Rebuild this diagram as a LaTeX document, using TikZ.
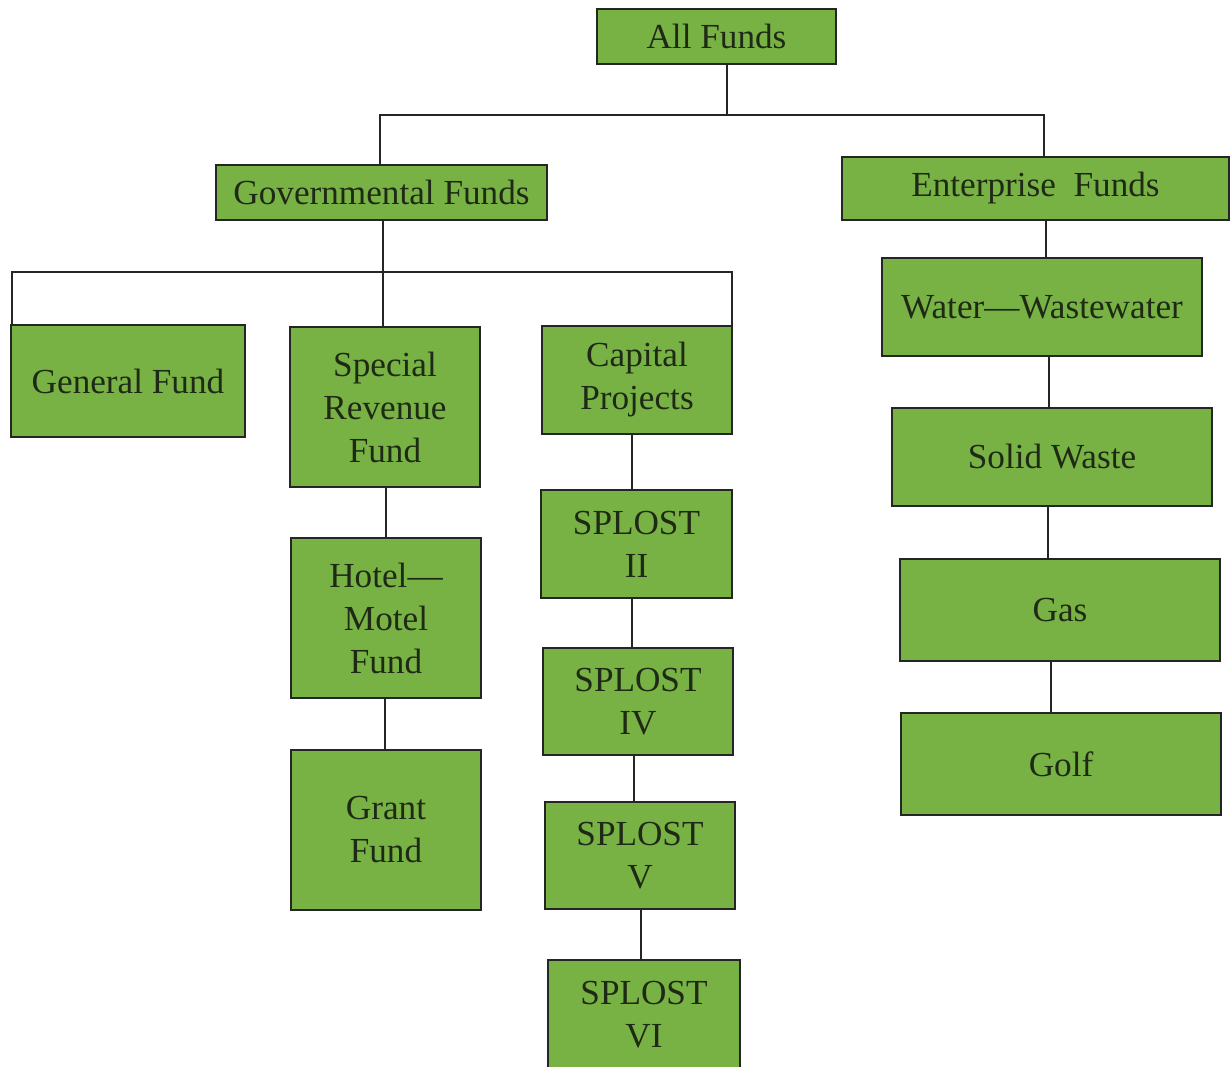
\documentclass[tikz,border=0pt]{standalone}
\usepackage{fontspec}
\setmainfont{Liberation Serif}
\definecolor{fundgreen}{RGB}{121,178,68}
\definecolor{fundtext}{RGB}{30,42,22}
\definecolor{fundline}{RGB}{35,38,35}
\tikzset{
  fundbox/.style={draw=fundline, line width=1.3pt, fill=fundgreen, text=fundtext,
    inner sep=0pt, align=center, anchor=center,
    font=\fontsize{17.6pt}{21.5pt}\selectfont},
  link/.style={draw=fundline, line width=1pt}
}
\begin{document}
\begin{tikzpicture}[x=0.5pt,y=-0.5pt]
\useasboundingbox (0,0) rectangle (1231,1066);
\clip (0,0) rectangle (1231,1066);
% top levels
\node[fundbox, minimum width=119.5pt, minimum height=27.5pt] (all) at (716.5,36.5) {All Funds};
\node[fundbox, minimum width=165.5pt, minimum height=27.5pt] (gov) at (381.5,192.5) {Governmental Funds};
\node[fundbox, minimum width=193.5pt, minimum height=31.5pt] (ent) at (1035.5,188.5) {Enterprise~~Funds};
% governmental children
\node[fundbox, minimum width=117pt, minimum height=56pt] (gen) at (128,381) {General Fund};
\node[fundbox, minimum width=95pt, minimum height=80pt] (spec) at (385,407) {Special\\Revenue\\Fund};
\node[fundbox, minimum width=95pt, minimum height=54pt] (cap) at (637,380) {Capital\\Projects};
\node[fundbox, minimum width=95pt, minimum height=80pt] (hotel) at (386,618) {Hotel—\\Motel\\Fund};
\node[fundbox, minimum width=95pt, minimum height=80pt] (grant) at (386,830) {Grant\\Fund};
\node[fundbox, minimum width=95.5pt, minimum height=54pt] (s2) at (636.5,544) {SPLOST\\II};
\node[fundbox, minimum width=95pt, minimum height=53.5pt] (s4) at (638,701.5) {SPLOST\\IV};
\node[fundbox, minimum width=95pt, minimum height=53.5pt] (s5) at (640,855.5) {SPLOST\\V};
\node[fundbox, minimum width=96pt, minimum height=55pt] (s6) at (644,1015) {SPLOST\\VI};
% enterprise children
\node[fundbox, minimum width=160pt, minimum height=49pt] (water) at (1042,307) {Water—Wastewater};
\node[fundbox, minimum width=160pt, minimum height=49pt] (solid) at (1052,457) {Solid Waste};
\node[fundbox, minimum width=160pt, minimum height=51pt] (gas) at (1060,610) {Gas};
\node[fundbox, minimum width=160pt, minimum height=51pt] (golf) at (1061,764) {Golf};
% junctions
\coordinate (j1) at (727,115);
\coordinate (j2) at (383,272);
% connectors
\draw[link] ([xshift=5.25pt]all.south) -- (j1);
\draw[link] ([xshift=-0.75pt]gov.north) |- (j1) -| ([xshift=4.25pt]ent.north);
\draw[link] ([xshift=0.75pt]gov.south) -- (j2);
\draw[link] (j2) -- (j2 |- spec.north);
\draw[link] ([xshift=1pt]gen.north west) |- (j2) -| ([xshift=-0.5pt]cap.north east);
\draw[link] ([xshift=0.5pt]spec.south) coordinate (t1) -- (t1 |- hotel.north);
\draw[link] ([xshift=-0.5pt]hotel.south) coordinate (t2) -- (t2 |- grant.north);
\draw[link] ([xshift=-2.5pt]cap.south) coordinate (t3) -- (t3 |- s2.north);
\draw[link] ([xshift=-2.25pt]s2.south) coordinate (t4) -- (t4 |- s4.north);
\draw[link] ([xshift=-2pt]s4.south) coordinate (t5) -- (t5 |- s5.north);
\draw[link] ([xshift=0.5pt]s5.south) coordinate (t6) -- (t6 |- s6.north);
\draw[link] ([xshift=5.25pt]ent.south) coordinate (t7) -- (t7 |- water.north);
\draw[link] ([xshift=3.5pt]water.south) coordinate (t8) -- (t8 |- solid.north);
\draw[link] ([xshift=-2pt]solid.south) coordinate (t9) -- (t9 |- gas.north);
\draw[link] ([xshift=-4.5pt]gas.south) coordinate (t10) -- (t10 |- golf.north);
\end{tikzpicture}
\end{document}
